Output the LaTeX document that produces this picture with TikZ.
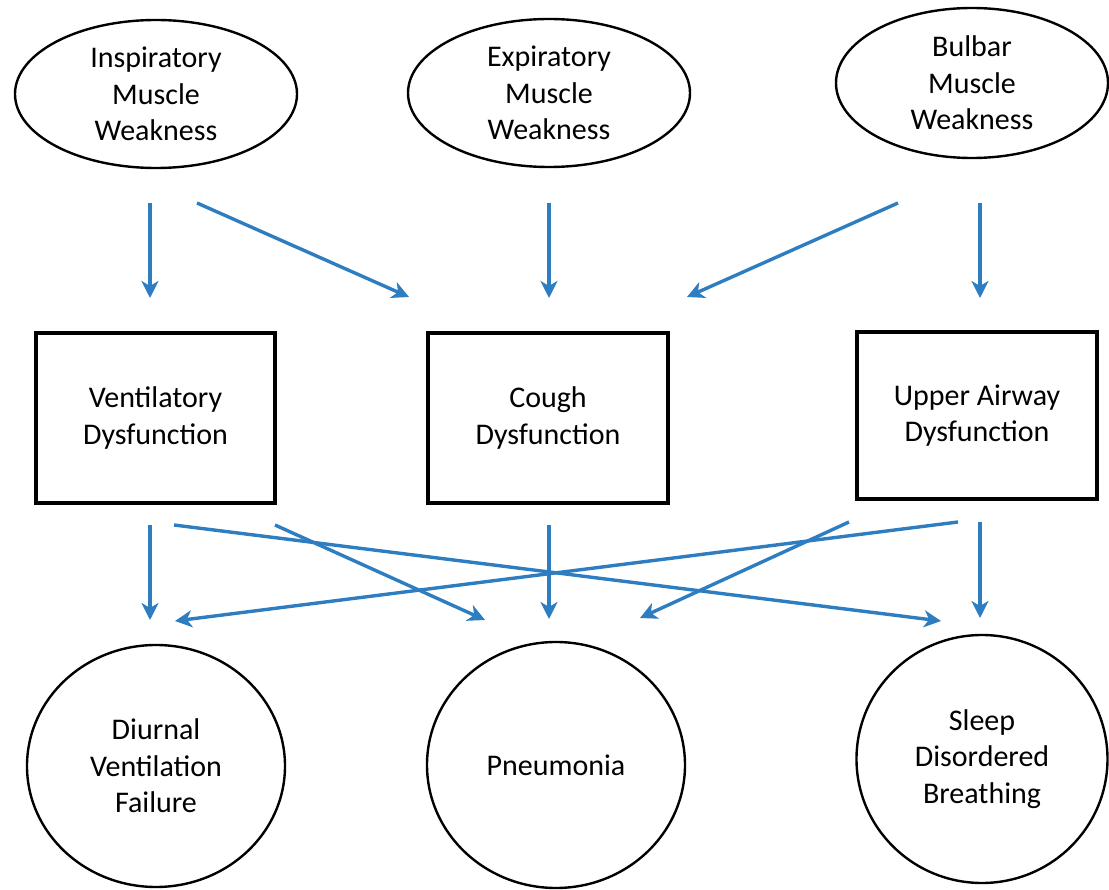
\documentclass[tikz,border=0pt]{standalone}
\usepackage{fontspec}
\setmainfont{Carlito}
\usetikzlibrary{shapes.geometric,arrows.meta}
\definecolor{arrowblue}{RGB}{46,125,193}
\tikzset{
  oval/.style={draw=black,line width=2.4pt,ellipse,inner sep=0pt,align=center,
    font=\fontsize{30}{36.5}\selectfont},
  boxnode/.style={draw=black,line width=3.2pt,rectangle,inner sep=0pt,align=center,
    font=\fontsize{30}{36.5}\selectfont},
  roundnode/.style={draw=black,line width=2.4pt,ellipse,inner sep=0pt,align=center,
    font=\fontsize{30}{36.5}\selectfont},
  flow/.style={draw=arrowblue,line width=3.4pt,
    -{Stealth[length=17pt,width=17pt,inset=5pt]}},
}
\begin{document}
\begin{tikzpicture}[x=1pt,y=-1pt]
\useasboundingbox (0,0) rectangle (1109,890);

% muscle weakness (top row)
\node[oval,minimum width=282pt,minimum height=148pt] (insp) at (156,94) {Inspiratory\\Muscle\\Weakness};
\node[oval,minimum width=282pt,minimum height=148pt] (exp) at (549,93) {Expiratory\\Muscle\\Weakness};
\node[oval,minimum width=272pt,minimum height=150pt] (bulb) at (972,83) {Bulbar\\Muscle\\Weakness};

% dysfunctions (middle row)
\node[boxnode,minimum width=239pt,minimum height=170pt] (vent) at (155.5,418) {Ventilatory\\Dysfunction};
\node[boxnode,minimum width=240pt,minimum height=170pt] (cough) at (548,418) {Cough\\Dysfunction};
\node[boxnode,minimum width=240pt,minimum height=167pt] (upper) at (977,415.5) {Upper Airway\\Dysfunction};

% outcomes (bottom row)
\node[roundnode,minimum width=258pt,minimum height=242pt] (diur) at (156,766) {Diurnal\\Ventilation\\Failure};
\node[roundnode,minimum width=258pt,minimum height=246pt] (pneu) at (556,765) {Pneumonia};
\node[roundnode,minimum width=251pt,minimum height=248pt] (sleep) at (982,759) {Sleep\\Disordered\\Breathing};

% arrow end points, top row
\coordinate (t1s) at (150,203); \coordinate (t1e) at (150,298);
\coordinate (t2s) at (197,203); \coordinate (t2e) at (409,297);
\coordinate (t3s) at (549,203); \coordinate (t3e) at (549,298);
\coordinate (t4s) at (898,203); \coordinate (t4e) at (687,297);
\coordinate (t5s) at (980,203); \coordinate (t5e) at (980,298);

% arrow end points, bottom row
\coordinate (b1s) at (150,525); \coordinate (b1e) at (150,620);
\coordinate (b2s) at (174,525); \coordinate (b2e) at (941,621);
\coordinate (b3s) at (275,525); \coordinate (b3e) at (485,620);
\coordinate (b4s) at (549,525); \coordinate (b4e) at (549,619);
\coordinate (b5s) at (849,522); \coordinate (b5e) at (640,618);
\coordinate (b6s) at (958,522); \coordinate (b6e) at (175,621);
\coordinate (b7s) at (980,522); \coordinate (b7e) at (980,618);

\draw[flow] (t1s) -- (t1e);
\draw[flow] (t2s) -- (t2e);
\draw[flow] (t3s) -- (t3e);
\draw[flow] (t4s) -- (t4e);
\draw[flow] (t5s) -- (t5e);

\draw[flow] (b1s) -- (b1e);
\draw[flow] (b2s) -- (b2e);
\draw[flow] (b3s) -- (b3e);
\draw[flow] (b4s) -- (b4e);
\draw[flow] (b5s) -- (b5e);
\draw[flow] (b6s) -- (b6e);
\draw[flow] (b7s) -- (b7e);
\end{tikzpicture}
\end{document}
